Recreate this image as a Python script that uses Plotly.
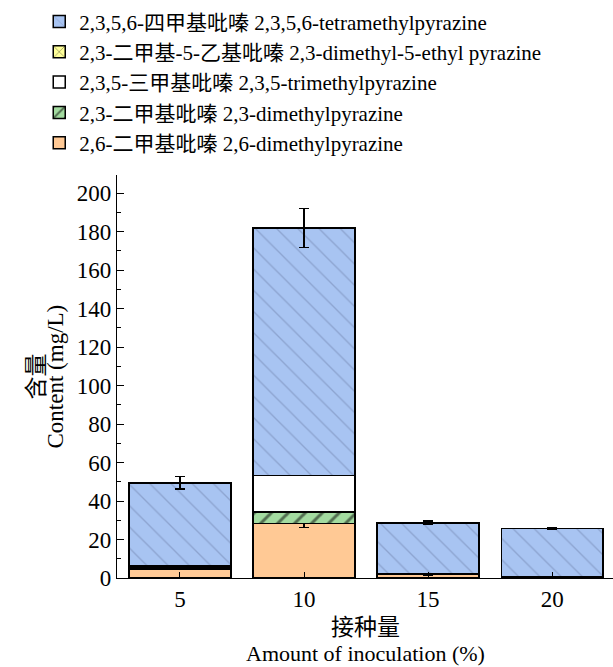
import plotly.graph_objects as go

categories = ["5", "10", "15", "20"]

dimethyl_26 = [4.8, 28.3, 2.0, 0.5]
dimethyl_26_err = [0.5, 2.2, 0.5, 0.3]
dimethyl_23 = [0.7, 5.9, 0.0, 0.0]
trimethyl_235 = [0.4, 19.0, 0.0, 0.0]
dimethyl_ethyl = [0.4, 0.0, 0.0, 0.0]
tetramethyl = [43.2, 128.8, 26.7, 25.2]
tetramethyl_err = [3.2, 10.1, 1.0, 0.3]

names = [
    "2,6-二甲基吡嗪 2,6-dimethylpyrazine",
    "2,3-二甲基吡嗪 2,3-dimethylpyrazine",
    "2,3,5-三甲基吡嗪 2,3,5-trimethylpyrazine",
    "2,3-二甲基-5-乙基吡嗪 2,3-dimethyl-5-ethyl pyrazine",
    "2,3,5,6-四甲基吡嗪 2,3,5,6-tetramethylpyrazine",
]
x_title = ["接种量", "Amount of inoculation (%)"]
y_title = ["含量", "Content (mg/L)"]

FONT = "Liberation Serif, Times New Roman, Noto Sans CJK SC, serif"
line = dict(color="black", width=1.5)
err_style = dict(type="data", color="black", thickness=1.4, width=5)

fig = go.Figure()
fig.add_trace(go.Bar(
    x=categories, y=dimethyl_26, name=names[0],
    marker=dict(color="#FFC995", line=line),
    error_y=dict(array=dimethyl_26_err, **err_style),
))
fig.add_trace(go.Bar(
    x=categories, y=dimethyl_23, name=names[1],
    marker=dict(color="#A3DBA0", line=line,
                pattern=dict(shape="/", fgcolor="black", size=12, solidity=0.25)),
))
fig.add_trace(go.Bar(
    x=categories, y=trimethyl_235, name=names[2],
    marker=dict(color="white", line=line),
))
fig.add_trace(go.Bar(
    x=categories, y=dimethyl_ethyl, name=names[3],
    marker=dict(color="#FFFF99", line=line,
                pattern=dict(shape="x", fgcolor="black", size=12, solidity=0.15)),
))
fig.add_trace(go.Bar(
    x=categories, y=tetramethyl, name=names[4],
    marker=dict(color="#A8C4F2", line=line,
                pattern=dict(shape="\\", fgcolor="#7284ad", size=15, solidity=0.09)),
    error_y=dict(array=tetramethyl_err, **err_style),
))

fig.update_layout(
    width=613, height=667,
    barmode="stack",
    bargap=0.18,
    plot_bgcolor="white",
    paper_bgcolor="white",
    margin=dict(l=117, r=0, t=175, b=89, autoexpand=False),
    font=dict(family=FONT, size=23, color="black"),
    legend=dict(
        xref="container", yref="container",
        x=0.064, y=0.998, xanchor="left", yanchor="top",
        traceorder="reversed",
        font=dict(family=FONT, size=21, color="black"),
        tracegroupgap=0, itemwidth=30,
        bgcolor="rgba(0,0,0,0)",
    ),
    xaxis=dict(
        type="category",
        range=[-0.507, 3.49],
        showline=True, linecolor="black", linewidth=1.4,
        ticks="inside", ticklen=6, tickwidth=1.3, tickcolor="black",
        tickfont=dict(size=23),
        showgrid=False, zeroline=False, automargin=False,
    ),
    yaxis=dict(
        range=[0, 209.5],
        tick0=0, dtick=20,
        showline=True, linecolor="black", linewidth=1.4,
        ticks="inside", ticklen=7, tickwidth=1.3, tickcolor="black",
        tickfont=dict(size=23),
        minor=dict(ticks="inside", ticklen=4, tickcolor="black", dtick=10, tickwidth=1.2),
        showgrid=False, zeroline=False, automargin=False,
    ),
    annotations=[
        dict(text=x_title[0], xref="paper", yref="paper", x=0.5, y=0,
             xanchor="center", yanchor="middle", yshift=-49, showarrow=False,
             font=dict(size=23)),
        dict(text=x_title[1], xref="paper", yref="paper", x=0.5, y=0,
             xanchor="center", yanchor="middle", yshift=-75, showarrow=False,
             font=dict(size=22)),
        dict(text=y_title[0], xref="paper", yref="paper", x=0, y=0.5,
             xanchor="center", yanchor="middle", xshift=-81, textangle=-90,
             showarrow=False, font=dict(size=23)),
        dict(text=y_title[1], xref="paper", yref="paper", x=0, y=0.5,
             xanchor="center", yanchor="middle", xshift=-62, textangle=-90,
             showarrow=False, font=dict(size=23)),
    ],
)

fig.write_html("out.html")
